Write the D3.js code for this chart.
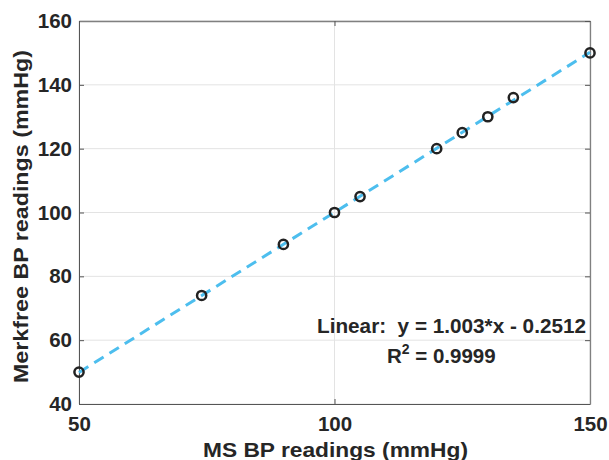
<!DOCTYPE html>
<html>
<head>
<meta charset="utf-8">
<script src="https://cdn.jsdelivr.net/npm/d3@7"></script>
<style>
  body { margin: 0; background: #fff; }
  svg text { font-family: "Liberation Sans", Arial, sans-serif; font-weight: bold; fill: #262626; white-space: pre; }
</style>
</head>
<body>
<div id="chart"></div>
<script>
const msReadings = [50, 74, 90, 100, 105, 120, 125, 130, 135, 150];
const merkfreeReadings = [50, 74, 90, 100, 105, 120, 125, 130, 136, 150];
const fitSlope = 1.003;
const fitIntercept = -0.2512;
const xTicks = [50, 100, 150];
const yTicks = [40, 60, 80, 100, 120, 140, 160];

const width = 609;
const height = 460;
const margin = { left: 79, right: 19, top: 21, bottom: 56 };

const svg = d3.select("#chart")
  .append("svg")
  .attr("width", width)
  .attr("height", height);

const x = d3.scaleLinear().domain([50, 150]).range([margin.left, width - margin.right]);
const y = d3.scaleLinear().domain([40, 160]).range([height - margin.bottom, margin.top]);

// grid
svg.append("g")
  .selectAll("line")
  .data(xTicks)
  .enter().append("line")
  .attr("x1", d => x(d)).attr("x2", d => x(d))
  .attr("y1", y(40)).attr("y2", y(160))
  .attr("stroke", "#e3e3e3").attr("stroke-width", 1);

svg.append("g")
  .selectAll("line")
  .data(yTicks)
  .enter().append("line")
  .attr("x1", x(50)).attr("x2", x(150))
  .attr("y1", d => y(d)).attr("y2", d => y(d))
  .attr("stroke", "#e3e3e3").attr("stroke-width", 1);

// axes (ticks point inward, MATLAB style)
const gx = svg.append("g")
  .attr("transform", `translate(0,${y(40)})`)
  .call(d3.axisBottom(x).tickValues(xTicks).tickSizeInner(-5).tickSizeOuter(0).tickPadding(12));
const gy = svg.append("g")
  .attr("transform", `translate(${x(50)},0)`)
  .call(d3.axisLeft(y).tickValues(yTicks).tickSizeInner(-5).tickSizeOuter(0).tickPadding(7));

const gxTop = svg.append("g")
  .attr("transform", `translate(0,${y(160)})`)
  .call(d3.axisTop(x).tickValues(xTicks).tickSizeInner(-5).tickSizeOuter(0).tickFormat(""));
const gyRight = svg.append("g")
  .attr("transform", `translate(${x(150)},0)`)
  .call(d3.axisRight(y).tickValues(yTicks).tickSizeInner(-5).tickSizeOuter(0).tickFormat(""));

[gx, gy, gxTop, gyRight].forEach(g => {
  g.select(".domain").attr("stroke", "#555").attr("stroke-width", 1);
  g.selectAll(".tick line").attr("stroke", "#555");
  g.selectAll(".tick text")
    .attr("font-family", "Liberation Sans, Arial, sans-serif")
    .attr("font-weight", "bold")
    .attr("font-size", 20.5)
    .attr("fill", "#262626");
});
[gxTop, gyRight].forEach(g => g.select(".domain").attr("stroke", "#808080").attr("stroke-width", 1.3));

// fit line
const fitLine = d3.line()
  .x(d => x(d))
  .y(d => y(fitSlope * d + fitIntercept));

svg.append("path")
  .datum([50, 150])
  .attr("d", fitLine)
  .attr("fill", "none")
  .attr("stroke", "#4DBEEE")
  .attr("stroke-width", 3)
  .attr("stroke-dasharray", "11,7");

// points
svg.append("g")
  .selectAll("circle")
  .data(msReadings)
  .enter().append("circle")
  .attr("cx", d => x(d))
  .attr("cy", (d, i) => y(merkfreeReadings[i]))
  .attr("r", 4.6)
  .attr("fill", "none")
  .attr("stroke", "#222")
  .attr("stroke-width", 2.5);

// equation text
svg.append("text")
  .attr("x", 317).attr("y", 333)
  .attr("font-size", 20)
  .attr("textLength", 269)
  .attr("lengthAdjust", "spacingAndGlyphs")
  .text("Linear:  y = 1.003*x - 0.2512");

const r2 = svg.append("text")
  .attr("x", 387).attr("y", 363)
  .attr("font-size", 20.5);
r2.append("tspan").text("R");
r2.append("tspan").attr("dy", -9).attr("font-size", 14).text("2");
r2.append("tspan").attr("dy", 9).text(" = 0.9999");

// axis labels
svg.append("text")
  .attr("x", 203)
  .attr("y", 457)
  .attr("font-size", 20.5)
  .attr("textLength", 265)
  .attr("lengthAdjust", "spacingAndGlyphs")
  .text("MS BP readings (mmHg)");

svg.append("text")
  .attr("transform", "translate(28,383) rotate(-90)")
  .attr("font-size", 20.5)
  .attr("textLength", 333)
  .attr("lengthAdjust", "spacingAndGlyphs")
  .text("Merkfree BP readings (mmHg)");
</script>
</body>
</html>
